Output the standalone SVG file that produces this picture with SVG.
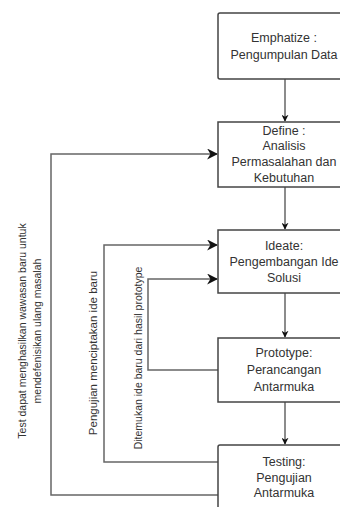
<svg xmlns="http://www.w3.org/2000/svg" width="340" height="507" viewBox="0 0 340 507">
<defs>
<style>
.box{fill:#fff;stroke:#444;stroke-width:1.5}
.bt{font-family:"Liberation Sans",Arial,sans-serif;font-size:12.5px;fill:#333;text-anchor:middle}
.lt{font-family:"Liberation Sans",Arial,sans-serif;font-size:10.5px;fill:#333;text-anchor:middle}
.l2{font-size:11.5px}
.c{fill:none;stroke:#666;stroke-width:1.5}
</style>
<marker id="ah" viewBox="0 0 10 10" refX="9" refY="5" markerWidth="7" markerHeight="7" markerUnits="userSpaceOnUse" orient="auto">
<path d="M0,0 L10,5 L0,10 L3,5 Z" fill="#111"/>
</marker>
<marker id="ahb" viewBox="0 0 10 10" refX="9" refY="5" markerWidth="11" markerHeight="11" markerUnits="userSpaceOnUse" orient="auto">
<path d="M0,0 L10,5 L0,10 L3,5 Z" fill="#111"/>
</marker>
</defs>
<rect width="340" height="507" fill="#fff"/>
<g id="connectors">
<path class="c" d="M285,79 V121" marker-end="url(#ah)"/>
<path class="c" d="M285,187 V229" marker-end="url(#ah)"/>
<path class="c" d="M285,293 V337" marker-end="url(#ah)"/>
<path class="c" d="M285,402 V444" marker-end="url(#ah)"/>
<path class="c" d="M218,495 H51 V154 H217" marker-end="url(#ahb)"/>
<path class="c" d="M218,462 H104 V245 H217" marker-end="url(#ahb)"/>
<path class="c" d="M218,370 H148 V279 H217" marker-end="url(#ahb)"/>
</g>
<g id="emphatize">
<rect class="box" x="218" y="13" width="134" height="66" rx="2"/>
<text class="bt" x="284" y="42">Emphatize :</text>
<text class="bt" x="284" y="59">Pengumpulan Data</text>
</g>
<g id="define">
<rect class="box" x="218" y="122" width="134" height="65"/>
<text class="bt" x="284" y="135">Define :</text>
<text class="bt" x="284" y="150">Analisis</text>
<text class="bt" x="284" y="166">Permasalahan dan</text>
<text class="bt" x="284" y="182">Kebutuhan</text>
</g>
<g id="ideate">
<rect class="box" x="218" y="230" width="134" height="63"/>
<text class="bt" x="284" y="250">Ideate:</text>
<text class="bt" x="284" y="266">Pengembangan Ide</text>
<text class="bt" x="284" y="282">Solusi</text>
</g>
<g id="prototype">
<rect class="box" x="218" y="338" width="134" height="64"/>
<text class="bt" x="284" y="357">Prototype:</text>
<text class="bt" x="284" y="374">Perancangan</text>
<text class="bt" x="284" y="391">Antarmuka</text>
</g>
<g id="testing">
<rect class="box" x="218" y="445" width="134" height="70" rx="2"/>
<text class="bt" x="284" y="466">Testing:</text>
<text class="bt" x="284" y="482">Pengujian</text>
<text class="bt" x="284" y="497">Antarmuka</text>
</g>
<g id="labels">
<text class="lt" transform="translate(26,331) rotate(-90)">Test dapat menghasilkan wawasan baru untuk</text>
<text class="lt" transform="translate(41,331) rotate(-90)">mendefenisikan ulang masalah</text>
<text class="lt l2" transform="translate(97,353) rotate(-90)">Pengujian menciptakan ide baru</text>
<text class="lt" transform="translate(142,358) rotate(-90)">Ditemukan ide baru dari hasil prototype</text>
</g>
</svg>
